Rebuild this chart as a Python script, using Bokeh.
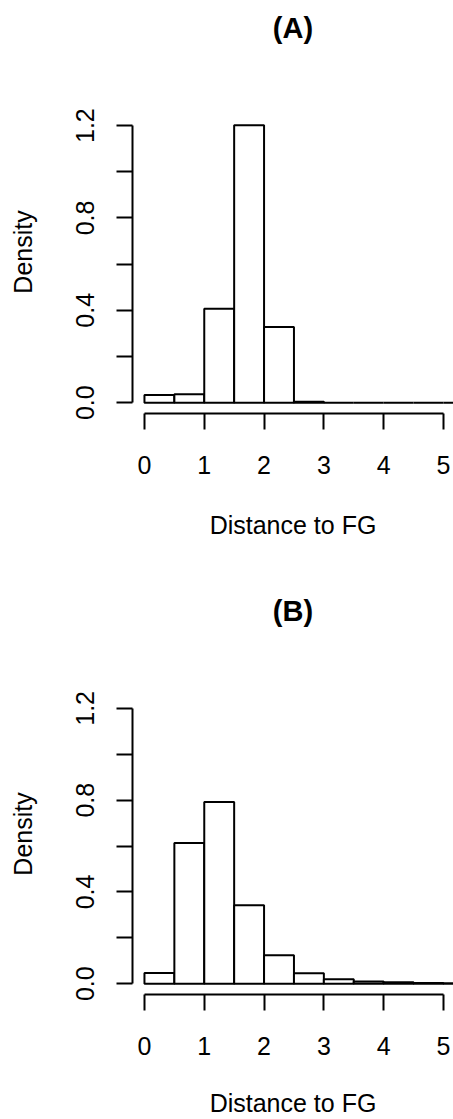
from bokeh.plotting import figure
from bokeh.models import Range1d, FixedTicker, ColumnDataSource, LinearAxis
from bokeh.layouts import column
from bokeh.embed import file_html
from bokeh.resources import INLINE

# ---- data ----
breaks = [0.0, 0.5, 1.0, 1.5, 2.0, 2.5, 3.0, 3.5, 4.0, 4.5, 5.0, 5.5]
density_a = [0.033, 0.036, 0.407, 1.202, 0.328, 0.004, 0.0, 0.0, 0.0, 0.0, 0.0]
density_b = [0.047, 0.613, 0.792, 0.342, 0.124, 0.046, 0.019, 0.010, 0.006, 0.003, 0.0015]
titles = ["(A)", "(B)"]
x_label = "Distance to FG"
y_label = "Density"
x_ticks = [0, 1, 2, 3, 4, 5]
y_ticks = [0.0, 0.2, 0.4, 0.6, 0.8, 1.0, 1.2]
y_tick_labels = {0.0: "0.0", 0.2: "", 0.4: "0.4", 0.6: "", 0.8: "0.8", 1.0: "", 1.2: "1.2"}

FONT = "Liberation Sans"
W = 453
PX_X = 59.8          # pixels per x unit
Y0, Y1 = -0.047, 1.352
FRAME_H = 323
TOP = 90
LEFT = 132


def panel(title, dens, height, xlab_standoff):
    bottom = height - TOP - FRAME_H
    x_end = -0.2 + (W - LEFT) / PX_X
    p = figure(width=W, height=height, output_backend="svg", toolbar_location=None,
               x_range=Range1d(-0.2, x_end), y_range=Range1d(Y0, Y1),
               min_border_left=LEFT, min_border_right=0, min_border_top=TOP,
               min_border_bottom=bottom)
    p.outline_line_color = None
    p.grid.visible = False
    p.background_fill_color = "white"
    p.border_fill_color = "white"

    src = ColumnDataSource(dict(left=breaks[:-1], right=breaks[1:], top=dens,
                                bottom=[0.0] * len(dens)))
    p.quad(left="left", right="right", top="top", bottom="bottom", source=src,
           fill_color="white", line_color="black", line_width=2)

    for ax in (p.xaxis[0], p.yaxis[0]):
        ax.axis_line_width = 2
        ax.major_tick_line_width = 2
        ax.major_tick_out = 16
        ax.major_tick_in = 0
        ax.minor_tick_line_color = None
        ax.major_label_text_font = FONT
        ax.major_label_text_font_size = "25px"
        ax.major_label_text_color = "black"
        ax.axis_line_color = "black"
        ax.major_tick_line_color = "black"
        ax.axis_label_text_font = FONT
        ax.axis_label_text_font_size = "25px"
        ax.axis_label_text_font_style = "normal"
        ax.axis_label_text_color = "black"

    xa = p.xaxis[0]
    xa.ticker = FixedTicker(ticks=x_ticks)
    xa.bounds = (0, 5)
    xa.major_label_standoff = 26
    xa.axis_label = x_label
    xa.axis_label_standoff = xlab_standoff

    ya = p.yaxis[0]
    ya.ticker = FixedTicker(ticks=y_ticks)
    ya.bounds = (0, 1.2)
    ya.major_label_overrides = y_tick_labels
    ya.major_label_orientation = "vertical"
    ya.major_label_standoff = 22
    ya.axis_label = y_label
    ya.axis_label_standoff = 37

    # panel title as the label of a bare axis above the plot, centred on the plot region
    ta = LinearAxis(ticker=FixedTicker(ticks=[]), axis_line_color=None,
                    major_tick_out=0, major_tick_in=0, minor_tick_out=0, minor_tick_in=0,
                    major_label_standoff=0, major_label_text_font_size="0px",
                    axis_label=title, axis_label_standoff=47,
                    axis_label_text_font=FONT, axis_label_text_font_size="29px",
                    axis_label_text_font_style="bold", axis_label_text_color="black")
    p.add_layout(ta, "above")
    return p


pa = panel(titles[0], density_a, 583, 34)
pb = panel(titles[1], density_b, 1119 - 583, 31)
layout = column(pa, pb, spacing=0)

open("out.html", "w").write(file_html(layout, INLINE))
